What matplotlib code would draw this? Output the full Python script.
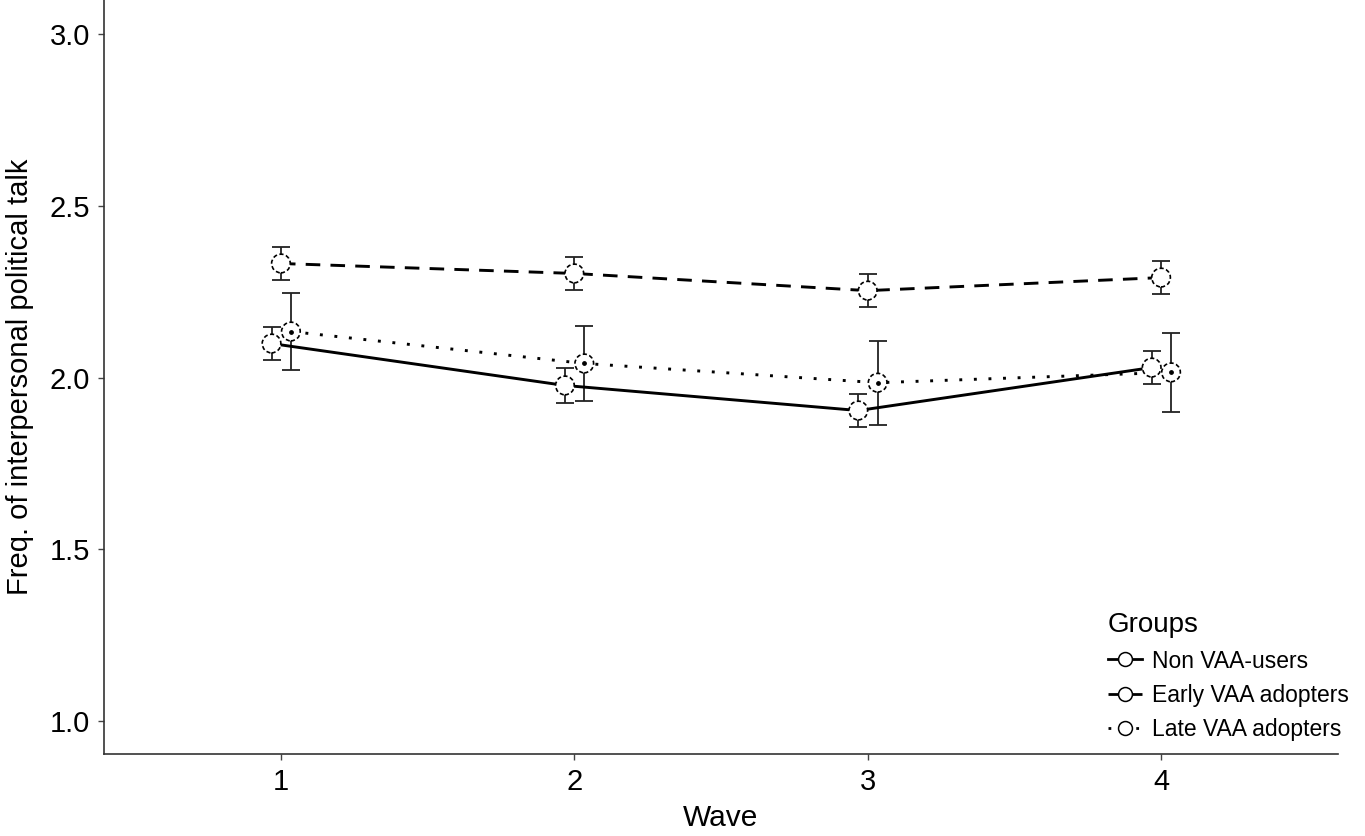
import matplotlib.pyplot as plt
import numpy as np

plt.rcParams['font.family'] = ['Liberation Sans', 'DejaVu Sans']

waves = [1, 2, 3, 4]
groups = ['Non VAA-users', 'Early VAA adopters', 'Late VAA adopters']

non_mean = [2.099, 1.977, 1.904, 2.029]
non_err = [0.048, 0.050, 0.047, 0.048]
early_mean = [2.332, 2.303, 2.253, 2.291]
early_err = [0.048, 0.049, 0.049, 0.048]
late_mean = [2.134, 2.041, 1.985, 2.015]
late_err = [0.113, 0.108, 0.122, 0.115]

means = [non_mean, early_mean, late_mean]
errs = [non_err, early_err, late_err]
dodge = [-0.032, 0.0, 0.034]
line_styles = ['-', (0, (5, 3.5)), (0, (1, 4))]

fig = plt.figure(figsize=(13.65, 8.36), dpi=100)
ax = fig.add_axes([0.0762, 0.098, 0.904, 0.902])

for i, g in enumerate(groups):
    x = np.array(waves) + dodge[i]
    y = np.array(means[i])
    ax.errorbar(x, y, yerr=errs[i], fmt='none', ecolor='#222222',
                elinewidth=1.3, capsize=6.5, capthick=1.3, zorder=2)
    ax.plot(x, y, color='black', linestyle=line_styles[i], linewidth=2.1,
            zorder=3)
    ax.scatter(x, y, s=180, facecolors='white', edgecolors='black',
               linewidths=1.2, linestyles=(0, (2.5, 1.5)), zorder=4)
    if i == 2:
        ax.scatter(x, y, s=6, color='black', zorder=5)

# legend proxies
handles = []
for i, g in enumerate(groups):
    h, = ax.plot([], [], color='black', linestyle=line_styles[i],
                 linewidth=2, marker='o', markersize=10,
                 markerfacecolor='white', markeredgecolor='black',
                 markeredgewidth=1.1)
    handles.append(h)
leg = fig.legend(handles, groups, title='Groups', loc='upper left',
                 bbox_to_anchor=(1092 / 1365, 1 - 596 / 836), frameon=False,
                 fontsize=16.5, title_fontsize=20, handlelength=1.5,
                 handletextpad=0.4, labelspacing=0.5, borderpad=0.2)
leg._legend_box.align = 'left'

ax.set_xlim(0.397, 4.603)
ax.set_ylim(0.904, 3.099)
ax.set_xticks(waves)
ax.set_yticks([1.0, 1.5, 2.0, 2.5, 3.0])
ax.set_yticklabels(['1.0', '1.5', '2.0', '2.5', '3.0'])
ax.tick_params(labelsize=21, length=4, width=1, color='#444444',
               labelcolor='black', pad=6)
ax.set_xlabel('Wave', fontsize=21.5, labelpad=6)
ax.set_ylabel('Freq. of interpersonal political talk', fontsize=21,
              labelpad=11)

ax.spines['right'].set_visible(False)
ax.spines['top'].set_visible(False)
ax.spines['left'].set_color('#333333')
ax.spines['bottom'].set_color('#333333')
ax.spines['left'].set_linewidth(1.2)
ax.spines['bottom'].set_linewidth(1.2)

fig.savefig('out.png', dpi=100)
